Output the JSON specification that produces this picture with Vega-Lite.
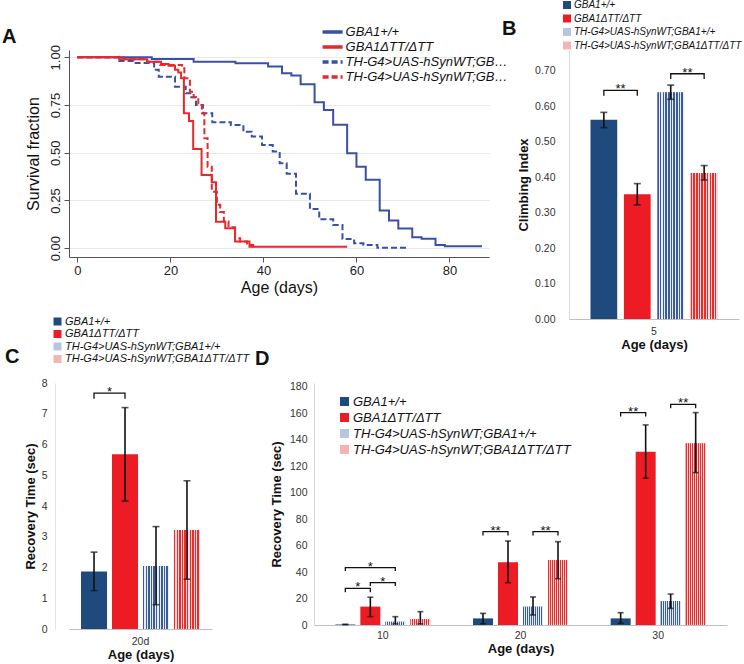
{
"$schema": "https://vega.github.io/schema/vega-lite/v6.json",
"background": "white",
"padding": {"left": 2, "top": 0, "right": 0, "bottom": 0},
"bounds": "flush",
"spacing": 333,
"resolve": {"scale": {"color": "independent", "strokeDash": "independent", "xOffset": "independent"}, "legend": {"color": "independent", "strokeDash": "independent"}},
"datasets": {
"surv": [
{"s":"GBA1+/+","day":0,"v":1.0},{"s":"GBA1+/+","day":16,"v":0.991},{"s":"GBA1+/+","day":25,"v":0.977},{"s":"GBA1+/+","day":34,"v":0.969},{"s":"GBA1+/+","day":41,"v":0.951},{"s":"GBA1+/+","day":44,"v":0.916},{"s":"GBA1+/+","day":46,"v":0.904},{"s":"GBA1+/+","day":48,"v":0.859},{"s":"GBA1+/+","day":51,"v":0.764},{"s":"GBA1+/+","day":53,"v":0.724},{"s":"GBA1+/+","day":55,"v":0.646},{"s":"GBA1+/+","day":58,"v":0.497},{"s":"GBA1+/+","day":60,"v":0.427},{"s":"GBA1+/+","day":62,"v":0.358},{"s":"GBA1+/+","day":65,"v":0.197},{"s":"GBA1+/+","day":67,"v":0.145},{"s":"GBA1+/+","day":69,"v":0.103},{"s":"GBA1+/+","day":72,"v":0.058},{"s":"GBA1+/+","day":74,"v":0.05},{"s":"GBA1+/+","day":77,"v":0.017},{"s":"GBA1+/+","day":79,"v":0.01},{"s":"GBA1+/+","day":87,"v":0.01},
{"s":"TH-G4>UAS-hSynWT;GBA1+/+","day":0,"v":1.0},{"s":"TH-G4>UAS-hSynWT;GBA1+/+","day":9,"v":0.98},{"s":"TH-G4>UAS-hSynWT;GBA1+/+","day":12,"v":0.97},{"s":"TH-G4>UAS-hSynWT;GBA1+/+","day":16.5,"v":0.934},{"s":"TH-G4>UAS-hSynWT;GBA1+/+","day":17.5,"v":0.898},{"s":"TH-G4>UAS-hSynWT;GBA1+/+","day":21,"v":0.846},{"s":"TH-G4>UAS-hSynWT;GBA1+/+","day":23.3,"v":0.811},{"s":"TH-G4>UAS-hSynWT;GBA1+/+","day":24.5,"v":0.79},{"s":"TH-G4>UAS-hSynWT;GBA1+/+","day":25.5,"v":0.75},{"s":"TH-G4>UAS-hSynWT;GBA1+/+","day":27,"v":0.707},{"s":"TH-G4>UAS-hSynWT;GBA1+/+","day":29,"v":0.66},{"s":"TH-G4>UAS-hSynWT;GBA1+/+","day":33,"v":0.645},{"s":"TH-G4>UAS-hSynWT;GBA1+/+","day":35.7,"v":0.61},{"s":"TH-G4>UAS-hSynWT;GBA1+/+","day":37.5,"v":0.585},{"s":"TH-G4>UAS-hSynWT;GBA1+/+","day":39.7,"v":0.541},{"s":"TH-G4>UAS-hSynWT;GBA1+/+","day":42,"v":0.506},{"s":"TH-G4>UAS-hSynWT;GBA1+/+","day":43.5,"v":0.445},{"s":"TH-G4>UAS-hSynWT;GBA1+/+","day":45,"v":0.39},{"s":"TH-G4>UAS-hSynWT;GBA1+/+","day":47,"v":0.285},{"s":"TH-G4>UAS-hSynWT;GBA1+/+","day":50,"v":0.205},{"s":"TH-G4>UAS-hSynWT;GBA1+/+","day":52,"v":0.152},{"s":"TH-G4>UAS-hSynWT;GBA1+/+","day":55,"v":0.122},{"s":"TH-G4>UAS-hSynWT;GBA1+/+","day":57,"v":0.048},{"s":"TH-G4>UAS-hSynWT;GBA1+/+","day":59.5,"v":0.026},{"s":"TH-G4>UAS-hSynWT;GBA1+/+","day":61.5,"v":0.017},{"s":"TH-G4>UAS-hSynWT;GBA1+/+","day":64.5,"v":0.003},{"s":"TH-G4>UAS-hSynWT;GBA1+/+","day":71.2,"v":0.003},
{"s":"GBA1ΔTT/ΔTT","day":0,"v":1.0},{"s":"GBA1ΔTT/ΔTT","day":9,"v":0.99},{"s":"GBA1ΔTT/ΔTT","day":15,"v":0.977},{"s":"GBA1ΔTT/ΔTT","day":18,"v":0.965},{"s":"GBA1ΔTT/ΔTT","day":19.6,"v":0.956},{"s":"GBA1ΔTT/ΔTT","day":21,"v":0.934},{"s":"GBA1ΔTT/ΔTT","day":21.7,"v":0.92},{"s":"GBA1ΔTT/ΔTT","day":22.3,"v":0.89},{"s":"GBA1ΔTT/ΔTT","day":22.9,"v":0.707},{"s":"GBA1ΔTT/ΔTT","day":24,"v":0.666},{"s":"GBA1ΔTT/ΔTT","day":24.9,"v":0.52},{"s":"GBA1ΔTT/ΔTT","day":26.7,"v":0.384},{"s":"GBA1ΔTT/ΔTT","day":28.9,"v":0.346},{"s":"GBA1ΔTT/ΔTT","day":29.8,"v":0.139},{"s":"GBA1ΔTT/ΔTT","day":31.8,"v":0.105},{"s":"GBA1ΔTT/ΔTT","day":33.9,"v":0.035},{"s":"GBA1ΔTT/ΔTT","day":37,"v":0.008},{"s":"GBA1ΔTT/ΔTT","day":58,"v":0.008},
{"s":"TH-G4>UAS-hSynWT;GBA1ΔTT/ΔTT","day":0,"v":1.0},{"s":"TH-G4>UAS-hSynWT;GBA1ΔTT/ΔTT","day":10,"v":0.99},{"s":"TH-G4>UAS-hSynWT;GBA1ΔTT/ΔTT","day":15,"v":0.977},{"s":"TH-G4>UAS-hSynWT;GBA1ΔTT/ΔTT","day":17.8,"v":0.96},{"s":"TH-G4>UAS-hSynWT;GBA1ΔTT/ΔTT","day":22.5,"v":0.942},{"s":"TH-G4>UAS-hSynWT;GBA1ΔTT/ΔTT","day":23,"v":0.89},{"s":"TH-G4>UAS-hSynWT;GBA1ΔTT/ΔTT","day":24.2,"v":0.82},{"s":"TH-G4>UAS-hSynWT;GBA1ΔTT/ΔTT","day":25,"v":0.79},{"s":"TH-G4>UAS-hSynWT;GBA1ΔTT/ΔTT","day":26,"v":0.75},{"s":"TH-G4>UAS-hSynWT;GBA1ΔTT/ΔTT","day":26.8,"v":0.707},{"s":"TH-G4>UAS-hSynWT;GBA1ΔTT/ΔTT","day":27.3,"v":0.576},{"s":"TH-G4>UAS-hSynWT;GBA1ΔTT/ΔTT","day":28,"v":0.427},{"s":"TH-G4>UAS-hSynWT;GBA1ΔTT/ΔTT","day":28.9,"v":0.296},{"s":"TH-G4>UAS-hSynWT;GBA1ΔTT/ΔTT","day":30,"v":0.227},{"s":"TH-G4>UAS-hSynWT;GBA1ΔTT/ΔTT","day":30.7,"v":0.19},{"s":"TH-G4>UAS-hSynWT;GBA1ΔTT/ΔTT","day":31.5,"v":0.14},{"s":"TH-G4>UAS-hSynWT;GBA1ΔTT/ΔTT","day":32.5,"v":0.11},{"s":"TH-G4>UAS-hSynWT;GBA1ΔTT/ΔTT","day":33.9,"v":0.052},{"s":"TH-G4>UAS-hSynWT;GBA1ΔTT/ΔTT","day":35,"v":0.035},{"s":"TH-G4>UAS-hSynWT;GBA1ΔTT/ΔTT","day":36.5,"v":0.017},{"s":"TH-G4>UAS-hSynWT;GBA1ΔTT/ΔTT","day":37.8,"v":0.003}
],
"climb": [
{"age":"5","g":"GBA1+/+","v":0.562,"lo":0.540,"hi":0.583},
{"age":"5","g":"GBA1ΔTT/ΔTT","v":0.352,"lo":0.322,"hi":0.382},
{"age":"5","g":"TH-G4>UAS-hSynWT;GBA1+/+","v":0.640,"lo":0.620,"hi":0.660},
{"age":"5","g":"TH-G4>UAS-hSynWT;GBA1ΔTT/ΔTT","v":0.412,"lo":0.392,"hi":0.433}
],
"climbBr": [
{"id":"b1","age":"5","g":"GBA1+/+","v":0.630,"o":1},{"id":"b1","age":"5","g":"GBA1+/+","v":0.645,"o":2},{"id":"b1","age":"5","g":"GBA1ΔTT/ΔTT","v":0.645,"o":3},{"id":"b1","age":"5","g":"GBA1ΔTT/ΔTT","v":0.630,"o":4},
{"id":"b2","age":"5","g":"TH-G4>UAS-hSynWT;GBA1+/+","v":0.677,"o":1},{"id":"b2","age":"5","g":"TH-G4>UAS-hSynWT;GBA1+/+","v":0.692,"o":2},{"id":"b2","age":"5","g":"TH-G4>UAS-hSynWT;GBA1ΔTT/ΔTT","v":0.692,"o":3},{"id":"b2","age":"5","g":"TH-G4>UAS-hSynWT;GBA1ΔTT/ΔTT","v":0.677,"o":4}
],
"climbTx": [
{"age":"5","g":"GBA1+/+","v":0.645,"t":"**"},
{"age":"5","g":"TH-G4>UAS-hSynWT;GBA1+/+","v":0.692,"t":"**"}
],
"rec20": [
{"age":"20d","g":"GBA1+/+","v":1.87,"lo":1.25,"hi":2.50},
{"age":"20d","g":"GBA1ΔTT/ΔTT","v":5.68,"lo":4.16,"hi":7.20},
{"age":"20d","g":"TH-G4>UAS-hSynWT;GBA1+/+","v":2.05,"lo":0.79,"hi":3.33},
{"age":"20d","g":"TH-G4>UAS-hSynWT;GBA1ΔTT/ΔTT","v":3.22,"lo":1.62,"hi":4.82}
],
"rec20Br": [
{"id":"c1","age":"20d","g":"GBA1+/+","v":7.49,"o":1},{"id":"c1","age":"20d","g":"GBA1+/+","v":7.67,"o":2},{"id":"c1","age":"20d","g":"GBA1ΔTT/ΔTT","v":7.67,"o":3},{"id":"c1","age":"20d","g":"GBA1ΔTT/ΔTT","v":7.49,"o":4}
],
"rec20Tx": [
{"age":"20d","g":"GBA1+/+","v":7.67,"t":"*"}
],
"rec": [
{"age":"10","g":"GBA1+/+","v":0.4,"lo":0.4,"hi":0.4},
{"age":"10","g":"GBA1ΔTT/ΔTT","v":13.9,"lo":6.3,"hi":21.0},
{"age":"10","g":"TH-G4>UAS-hSynWT;GBA1+/+","v":2.5,"lo":0.8,"hi":6.3},
{"age":"10","g":"TH-G4>UAS-hSynWT;GBA1ΔTT/ΔTT","v":4.5,"lo":0.8,"hi":10.1},
{"age":"20","g":"GBA1+/+","v":5.0,"lo":1.0,"hi":8.8},
{"age":"20","g":"GBA1ΔTT/ΔTT","v":47.4,"lo":32.0,"hi":63.5},
{"age":"20","g":"TH-G4>UAS-hSynWT;GBA1+/+","v":13.9,"lo":7.6,"hi":21.2},
{"age":"20","g":"TH-G4>UAS-hSynWT;GBA1ΔTT/ΔTT","v":49.2,"lo":35.0,"hi":63.0},
{"age":"30","g":"GBA1+/+","v":5.0,"lo":1.3,"hi":9.3},
{"age":"30","g":"GBA1ΔTT/ΔTT","v":131.1,"lo":111.0,"hi":151.3},
{"age":"30","g":"TH-G4>UAS-hSynWT;GBA1+/+","v":18.1,"lo":12.6,"hi":23.4},
{"age":"30","g":"TH-G4>UAS-hSynWT;GBA1ΔTT/ΔTT","v":137.4,"lo":115.2,"hi":160.6}
],
"recBr": [
{"id":"d1","age":"10","g":"GBA1+/+","v":24.7,"o":1},{"id":"d1","age":"10","g":"GBA1+/+","v":27.7,"o":2},{"id":"d1","age":"10","g":"GBA1ΔTT/ΔTT","v":27.7,"o":3},{"id":"d1","age":"10","g":"GBA1ΔTT/ΔTT","v":24.7,"o":4},
{"id":"d2","age":"10","g":"GBA1ΔTT/ΔTT","v":29.5,"o":1},{"id":"d2","age":"10","g":"GBA1ΔTT/ΔTT","v":32.0,"o":2},{"id":"d2","age":"10","g":"TH-G4>UAS-hSynWT;GBA1+/+","v":32.0,"o":3},{"id":"d2","age":"10","g":"TH-G4>UAS-hSynWT;GBA1+/+","v":29.5,"o":4},
{"id":"d3","age":"10","g":"GBA1+/+","v":40.8,"o":1},{"id":"d3","age":"10","g":"GBA1+/+","v":43.4,"o":2},{"id":"d3","age":"10","g":"TH-G4>UAS-hSynWT;GBA1+/+","v":43.4,"o":3},{"id":"d3","age":"10","g":"TH-G4>UAS-hSynWT;GBA1+/+","v":40.8,"o":4},
{"id":"d4","age":"20","g":"GBA1+/+","v":67.6,"o":1},{"id":"d4","age":"20","g":"GBA1+/+","v":70.6,"o":2},{"id":"d4","age":"20","g":"GBA1ΔTT/ΔTT","v":70.6,"o":3},{"id":"d4","age":"20","g":"GBA1ΔTT/ΔTT","v":67.6,"o":4},
{"id":"d5","age":"20","g":"TH-G4>UAS-hSynWT;GBA1+/+","v":67.6,"o":1},{"id":"d5","age":"20","g":"TH-G4>UAS-hSynWT;GBA1+/+","v":70.6,"o":2},{"id":"d5","age":"20","g":"TH-G4>UAS-hSynWT;GBA1ΔTT/ΔTT","v":70.6,"o":3},{"id":"d5","age":"20","g":"TH-G4>UAS-hSynWT;GBA1ΔTT/ΔTT","v":67.6,"o":4},
{"id":"d6","age":"30","g":"GBA1+/+","v":157.6,"o":1},{"id":"d6","age":"30","g":"GBA1+/+","v":160.6,"o":2},{"id":"d6","age":"30","g":"GBA1ΔTT/ΔTT","v":160.6,"o":3},{"id":"d6","age":"30","g":"GBA1ΔTT/ΔTT","v":157.6,"o":4},
{"id":"d7","age":"30","g":"TH-G4>UAS-hSynWT;GBA1+/+","v":163.9,"o":1},{"id":"d7","age":"30","g":"TH-G4>UAS-hSynWT;GBA1+/+","v":166.9,"o":2},{"id":"d7","age":"30","g":"TH-G4>UAS-hSynWT;GBA1ΔTT/ΔTT","v":166.9,"o":3},{"id":"d7","age":"30","g":"TH-G4>UAS-hSynWT;GBA1ΔTT/ΔTT","v":163.9,"o":4}
],
"recTx": [
{"age":"10","g":"GBA1+/+","v":27.7,"t":"*","mid":false},
{"age":"10","g":"GBA1ΔTT/ΔTT","v":32.0,"t":"*","mid":false},
{"age":"10","g":"GBA1ΔTT/ΔTT","v":43.4,"t":"*","mid":true},
{"age":"20","g":"GBA1+/+","v":70.6,"t":"**","mid":false},
{"age":"20","g":"TH-G4>UAS-hSynWT;GBA1+/+","v":70.6,"t":"**","mid":false},
{"age":"30","g":"GBA1+/+","v":160.6,"t":"**","mid":false},
{"age":"30","g":"TH-G4>UAS-hSynWT;GBA1+/+","v":166.9,"t":"**","mid":false}
]
},
"vconcat": [
{"hconcat": [
{
"width": 420, "height": 207,
"title": {"text": "A", "dx": -67, "offset": 0, "dy": 23},
"data": {"name": "surv"},
"mark": {"type": "line", "interpolate": "step-after", "strokeWidth": 2},
"encoding": {
"x": {"field": "day", "type": "quantitative", "scale": {"domain": [-1.8, 88.5], "nice": false, "zero": false},
 "axis": {"values": [0,20,40,60,80], "title": "Age (days)", "grid": false, "labelFontSize": 13, "titleFontSize": 16, "titleFontWeight": "normal", "tickSize": 5, "tickColor": "#555", "domainColor": "#555", "labelPadding": 2, "titlePadding": 2, "labelColor": "#222"}},
"y": {"field": "v", "type": "quantitative", "scale": {"domain": [-0.046, 1.038], "nice": false, "zero": false},
 "axis": {"values": [0,0.25,0.5,0.75,1], "format": ".2f", "title": "Survival fraction", "labelAngle": 270, "labelFontSize": 13, "titleFontSize": 16, "titleFontWeight": "normal", "tickSize": 5, "tickColor": "#555", "domainColor": "#555", "grid": true, "gridColor": "#e3ebf2", "labelPadding": 2, "titlePadding": 8, "labelColor": "#222"}},
"color": {"field": "s", "type": "nominal",
 "scale": {"domain": ["GBA1+/+","GBA1ΔTT/ΔTT","TH-G4>UAS-hSynWT;GBA1+/+","TH-G4>UAS-hSynWT;GBA1ΔTT/ΔTT"], "range": ["#3a4fa6","#e8282b","#3a4fa6","#e8282b"]},
 "legend": {"orient": "none", "legendX": 255.6, "legendY": -26, "title": null, "symbolType": "M-1.67,0H1.67", "symbolSize": 144, "symbolStrokeWidth": 3.5, "labelFontSize": 13, "rowPadding": 0, "labelLimit": 162, "labelOffset": 5}},
"strokeDash": {"field": "s", "type": "nominal",
 "scale": {"domain": ["GBA1+/+","GBA1ΔTT/ΔTT","TH-G4>UAS-hSynWT;GBA1+/+","TH-G4>UAS-hSynWT;GBA1ΔTT/ΔTT"], "range": [[1,0],[1,0],[6,3],[6,3]]},
 "legend": {"orient": "none", "legendX": 255.6, "legendY": -26, "title": null, "symbolType": "M-1.67,0H1.67", "symbolSize": 144, "symbolStrokeWidth": 3.5, "labelFontSize": 13, "rowPadding": 0, "labelLimit": 162, "labelOffset": 5}}
}
},
{
"width": 170, "height": 269,
"title": {"text": "B", "dx": -67, "offset": 0, "dy": 39},
"data": {"name": "climb"},
"resolve": {"axis": {"y": "independent"}},
"encoding": {
"x": {"field": "age", "type": "nominal", "scale": {"paddingInner": 0, "paddingOuter": 0.169},
 "axis": {"title": "Age (days)", "labelAngle": 0, "labelFontSize": 10.5, "ticks": false, "domainColor": "#bfbfbf", "labelPadding": 7, "titleFontSize": 13, "titleFontWeight": "bold", "titlePadding": 2}},
"xOffset": {"field": "g", "type": "nominal", "scale": {"domain": ["GBA1+/+","GBA1ΔTT/ΔTT","TH-G4>UAS-hSynWT;GBA1+/+","TH-G4>UAS-hSynWT;GBA1ΔTT/ΔTT"], "paddingInner": 0.2, "paddingOuter": 0}}
},
"layer": [
{"mark": {"type": "bar"},
 "encoding": {
 "y": {"field": "v", "type": "quantitative", "scale": {"domain": [0, 0.759], "nice": false},
  "axis": {"values": [0,0.1,0.2,0.3,0.4,0.5,0.6,0.7], "format": ".2f", "title": "Climbing Index", "grid": false, "ticks": false, "domainColor": "#d9d9d9", "labelFontSize": 10.5, "labelPadding": 14, "titleFontSize": 13, "titleFontWeight": "bold", "titlePadding": 4, "labelOverlap": false}},
 "color": {"field": "g", "type": "nominal",
  "scale": {"domain": ["GBA1+/+","GBA1ΔTT/ΔTT","TH-G4>UAS-hSynWT;GBA1+/+","TH-G4>UAS-hSynWT;GBA1ΔTT/ΔTT"], "range": ["#1f4a7e","#ed1c24","#b8c6dc","#f6b3b3"]},
  "legend": {"orient": "none", "legendX": -7, "legendY": -50, "title": null, "symbolType": "square", "symbolSize": 64, "labelFontSize": 10, "rowPadding": 3.5, "labelOffset": 2, "labelLimit": 250}}
 }},
{"transform": [{"filter": "indexof(datum.g,'TH')===0"}],
 "mark": {"type": "bar"},
 "encoding": {
 "y": {"field": "v", "type": "quantitative", "axis": null},
 "fill": {"condition": {"test": "datum.g==='TH-G4>UAS-hSynWT;GBA1+/+'", "value": {"gradient": "linear", "x1": 0, "y1": 0, "x2": 1, "y2": 0, "stops": [{"offset":0,"color":"#3a5d96"},{"offset":0.055,"color":"#3a5d96"},{"offset":0.055,"color":"#e6ebf4"},{"offset":0.1,"color":"#e6ebf4"},{"offset":0.1,"color":"#3a5d96"},{"offset":0.155,"color":"#3a5d96"},{"offset":0.155,"color":"#e6ebf4"},{"offset":0.2,"color":"#e6ebf4"},{"offset":0.2,"color":"#3a5d96"},{"offset":0.255,"color":"#3a5d96"},{"offset":0.255,"color":"#e6ebf4"},{"offset":0.3,"color":"#e6ebf4"},{"offset":0.3,"color":"#3a5d96"},{"offset":0.355,"color":"#3a5d96"},{"offset":0.355,"color":"#e6ebf4"},{"offset":0.4,"color":"#e6ebf4"},{"offset":0.4,"color":"#3a5d96"},{"offset":0.455,"color":"#3a5d96"},{"offset":0.455,"color":"#e6ebf4"},{"offset":0.5,"color":"#e6ebf4"},{"offset":0.5,"color":"#3a5d96"},{"offset":0.555,"color":"#3a5d96"},{"offset":0.555,"color":"#e6ebf4"},{"offset":0.6,"color":"#e6ebf4"},{"offset":0.6,"color":"#3a5d96"},{"offset":0.655,"color":"#3a5d96"},{"offset":0.655,"color":"#e6ebf4"},{"offset":0.7,"color":"#e6ebf4"},{"offset":0.7,"color":"#3a5d96"},{"offset":0.755,"color":"#3a5d96"},{"offset":0.755,"color":"#e6ebf4"},{"offset":0.8,"color":"#e6ebf4"},{"offset":0.8,"color":"#3a5d96"},{"offset":0.855,"color":"#3a5d96"},{"offset":0.855,"color":"#e6ebf4"},{"offset":0.9,"color":"#e6ebf4"},{"offset":0.9,"color":"#3a5d96"},{"offset":0.955,"color":"#3a5d96"},{"offset":0.955,"color":"#e6ebf4"},{"offset":1,"color":"#e6ebf4"}]}},
  "value": {"gradient": "linear", "x1": 0, "y1": 0, "x2": 1, "y2": 0, "stops": [{"offset":0,"color":"#ee2a2a"},{"offset":0.055,"color":"#ee2a2a"},{"offset":0.055,"color":"#fcdada"},{"offset":0.1,"color":"#fcdada"},{"offset":0.1,"color":"#ee2a2a"},{"offset":0.155,"color":"#ee2a2a"},{"offset":0.155,"color":"#fcdada"},{"offset":0.2,"color":"#fcdada"},{"offset":0.2,"color":"#ee2a2a"},{"offset":0.255,"color":"#ee2a2a"},{"offset":0.255,"color":"#fcdada"},{"offset":0.3,"color":"#fcdada"},{"offset":0.3,"color":"#ee2a2a"},{"offset":0.355,"color":"#ee2a2a"},{"offset":0.355,"color":"#fcdada"},{"offset":0.4,"color":"#fcdada"},{"offset":0.4,"color":"#ee2a2a"},{"offset":0.455,"color":"#ee2a2a"},{"offset":0.455,"color":"#fcdada"},{"offset":0.5,"color":"#fcdada"},{"offset":0.5,"color":"#ee2a2a"},{"offset":0.555,"color":"#ee2a2a"},{"offset":0.555,"color":"#fcdada"},{"offset":0.6,"color":"#fcdada"},{"offset":0.6,"color":"#ee2a2a"},{"offset":0.655,"color":"#ee2a2a"},{"offset":0.655,"color":"#fcdada"},{"offset":0.7,"color":"#fcdada"},{"offset":0.7,"color":"#ee2a2a"},{"offset":0.755,"color":"#ee2a2a"},{"offset":0.755,"color":"#fcdada"},{"offset":0.8,"color":"#fcdada"},{"offset":0.8,"color":"#ee2a2a"},{"offset":0.855,"color":"#ee2a2a"},{"offset":0.855,"color":"#fcdada"},{"offset":0.9,"color":"#fcdada"},{"offset":0.9,"color":"#ee2a2a"},{"offset":0.955,"color":"#ee2a2a"},{"offset":0.955,"color":"#fcdada"},{"offset":1,"color":"#fcdada"}]}}
 }},
{"mark": {"type": "rule", "color": "#111", "strokeWidth": 1.6},
 "encoding": {"y": {"field": "lo", "type": "quantitative", "axis": null}, "y2": {"field": "hi"}}},
{"mark": {"type": "tick", "color": "#111", "thickness": 1.6, "size": 7},
 "encoding": {"y": {"field": "lo", "type": "quantitative", "axis": null}}},
{"mark": {"type": "tick", "color": "#111", "thickness": 1.6, "size": 7},
 "encoding": {"y": {"field": "hi", "type": "quantitative", "axis": null}}},
{"data": {"name": "climbBr"},
 "mark": {"type": "line", "color": "#111", "strokeWidth": 1.3},
 "encoding": {"y": {"field": "v", "type": "quantitative", "axis": null}, "detail": {"field": "id"}, "order": {"field": "o"}}},
{"data": {"name": "climbTx"},
 "mark": {"type": "text", "dx": 16.7, "dy": 3, "baseline": "alphabetic", "fontSize": 13, "color": "#111"},
 "encoding": {"y": {"field": "v", "type": "quantitative", "axis": null}, "text": {"field": "t"}}}
]
}
], "bounds": "flush", "spacing": 80,
"resolve": {"scale": {"color": "independent", "strokeDash": "independent", "xOffset": "independent"}, "legend": {"color": "independent", "strokeDash": "independent"}}},
{"hconcat": [
{
"width": 143, "height": 246,
"title": {"text": "C", "dx": -64, "offset": 0, "dy": 51},
"data": {"name": "rec20"},
"resolve": {"axis": {"y": "independent"}},
"encoding": {
"x": {"field": "age", "type": "nominal", "scale": {"paddingInner": 0, "paddingOuter": 0.101},
 "axis": {"title": "Age (days)", "labelAngle": 0, "labelFontSize": 10.5, "ticks": false, "domainColor": "#bfbfbf", "labelPadding": 7, "titleFontSize": 13, "titleFontWeight": "bold", "titlePadding": 2}},
"xOffset": {"field": "g", "type": "nominal", "scale": {"domain": ["GBA1+/+","GBA1ΔTT/ΔTT","TH-G4>UAS-hSynWT;GBA1+/+","TH-G4>UAS-hSynWT;GBA1ΔTT/ΔTT"], "paddingInner": 0.16, "paddingOuter": 0}}
},
"layer": [
{"mark": {"type": "bar"},
 "encoding": {
 "y": {"field": "v", "type": "quantitative", "scale": {"domain": [0, 8], "nice": false},
  "axis": {"values": [0,1,2,3,4,5,6,7,8], "title": "Recovery Time (sec)", "grid": false, "ticks": false, "offset": 14, "domainColor": "#e3e3e3", "labelFontSize": 10.5, "labelPadding": 8, "titleFontSize": 13, "titleFontWeight": "bold", "titlePadding": 4, "labelOverlap": false}},
 "color": {"field": "g", "type": "nominal",
  "scale": {"domain": ["GBA1+/+","GBA1ΔTT/ΔTT","TH-G4>UAS-hSynWT;GBA1+/+","TH-G4>UAS-hSynWT;GBA1ΔTT/ΔTT"], "range": ["#1f4a7e","#ed1c24","#b8c6dc","#f6b3b3"]},
  "legend": {"orient": "none", "legendX": -17, "legendY": -67, "title": null, "symbolType": "square", "symbolSize": 64, "labelFontSize": 11, "rowPadding": 0.5, "labelOffset": 2, "labelLimit": 250}}
 }},
{"transform": [{"filter": "indexof(datum.g,'TH')===0"}],
 "mark": {"type": "bar"},
 "encoding": {
 "y": {"field": "v", "type": "quantitative", "axis": null},
 "fill": {"condition": {"test": "datum.g==='TH-G4>UAS-hSynWT;GBA1+/+'", "value": {"gradient": "linear", "x1": 0, "y1": 0, "x2": 1, "y2": 0, "stops": [{"offset":0,"color":"#3a5d96"},{"offset":0.055,"color":"#3a5d96"},{"offset":0.055,"color":"#e6ebf4"},{"offset":0.1,"color":"#e6ebf4"},{"offset":0.1,"color":"#3a5d96"},{"offset":0.155,"color":"#3a5d96"},{"offset":0.155,"color":"#e6ebf4"},{"offset":0.2,"color":"#e6ebf4"},{"offset":0.2,"color":"#3a5d96"},{"offset":0.255,"color":"#3a5d96"},{"offset":0.255,"color":"#e6ebf4"},{"offset":0.3,"color":"#e6ebf4"},{"offset":0.3,"color":"#3a5d96"},{"offset":0.355,"color":"#3a5d96"},{"offset":0.355,"color":"#e6ebf4"},{"offset":0.4,"color":"#e6ebf4"},{"offset":0.4,"color":"#3a5d96"},{"offset":0.455,"color":"#3a5d96"},{"offset":0.455,"color":"#e6ebf4"},{"offset":0.5,"color":"#e6ebf4"},{"offset":0.5,"color":"#3a5d96"},{"offset":0.555,"color":"#3a5d96"},{"offset":0.555,"color":"#e6ebf4"},{"offset":0.6,"color":"#e6ebf4"},{"offset":0.6,"color":"#3a5d96"},{"offset":0.655,"color":"#3a5d96"},{"offset":0.655,"color":"#e6ebf4"},{"offset":0.7,"color":"#e6ebf4"},{"offset":0.7,"color":"#3a5d96"},{"offset":0.755,"color":"#3a5d96"},{"offset":0.755,"color":"#e6ebf4"},{"offset":0.8,"color":"#e6ebf4"},{"offset":0.8,"color":"#3a5d96"},{"offset":0.855,"color":"#3a5d96"},{"offset":0.855,"color":"#e6ebf4"},{"offset":0.9,"color":"#e6ebf4"},{"offset":0.9,"color":"#3a5d96"},{"offset":0.955,"color":"#3a5d96"},{"offset":0.955,"color":"#e6ebf4"},{"offset":1,"color":"#e6ebf4"}]}},
  "value": {"gradient": "linear", "x1": 0, "y1": 0, "x2": 1, "y2": 0, "stops": [{"offset":0,"color":"#ee2a2a"},{"offset":0.055,"color":"#ee2a2a"},{"offset":0.055,"color":"#fcdada"},{"offset":0.1,"color":"#fcdada"},{"offset":0.1,"color":"#ee2a2a"},{"offset":0.155,"color":"#ee2a2a"},{"offset":0.155,"color":"#fcdada"},{"offset":0.2,"color":"#fcdada"},{"offset":0.2,"color":"#ee2a2a"},{"offset":0.255,"color":"#ee2a2a"},{"offset":0.255,"color":"#fcdada"},{"offset":0.3,"color":"#fcdada"},{"offset":0.3,"color":"#ee2a2a"},{"offset":0.355,"color":"#ee2a2a"},{"offset":0.355,"color":"#fcdada"},{"offset":0.4,"color":"#fcdada"},{"offset":0.4,"color":"#ee2a2a"},{"offset":0.455,"color":"#ee2a2a"},{"offset":0.455,"color":"#fcdada"},{"offset":0.5,"color":"#fcdada"},{"offset":0.5,"color":"#ee2a2a"},{"offset":0.555,"color":"#ee2a2a"},{"offset":0.555,"color":"#fcdada"},{"offset":0.6,"color":"#fcdada"},{"offset":0.6,"color":"#ee2a2a"},{"offset":0.655,"color":"#ee2a2a"},{"offset":0.655,"color":"#fcdada"},{"offset":0.7,"color":"#fcdada"},{"offset":0.7,"color":"#ee2a2a"},{"offset":0.755,"color":"#ee2a2a"},{"offset":0.755,"color":"#fcdada"},{"offset":0.8,"color":"#fcdada"},{"offset":0.8,"color":"#ee2a2a"},{"offset":0.855,"color":"#ee2a2a"},{"offset":0.855,"color":"#fcdada"},{"offset":0.9,"color":"#fcdada"},{"offset":0.9,"color":"#ee2a2a"},{"offset":0.955,"color":"#ee2a2a"},{"offset":0.955,"color":"#fcdada"},{"offset":1,"color":"#fcdada"}]}}
 }},
{"mark": {"type": "rule", "color": "#111", "strokeWidth": 1.6},
 "encoding": {"y": {"field": "lo", "type": "quantitative", "axis": null}, "y2": {"field": "hi"}}},
{"mark": {"type": "tick", "color": "#111", "thickness": 1.6, "size": 7},
 "encoding": {"y": {"field": "lo", "type": "quantitative", "axis": null}}},
{"mark": {"type": "tick", "color": "#111", "thickness": 1.6, "size": 7},
 "encoding": {"y": {"field": "hi", "type": "quantitative", "axis": null}}},
{"data": {"name": "rec20Br"},
 "mark": {"type": "line", "color": "#111", "strokeWidth": 1.3},
 "encoding": {"y": {"field": "v", "type": "quantitative", "axis": null}, "detail": {"field": "id"}, "order": {"field": "o"}}},
{"data": {"name": "rec20Tx"},
 "mark": {"type": "text", "dx": 15.5, "dy": 3, "baseline": "alphabetic", "fontSize": 13, "color": "#111"},
 "encoding": {"y": {"field": "v", "type": "quantitative", "axis": null}, "text": {"field": "t"}}}
]
},
{
"width": 413, "height": 242,
"title": {"text": "D", "dx": -59, "offset": 18, "dy": 5},
"data": {"name": "rec"},
"resolve": {"axis": {"y": "independent"}},
"encoding": {
"x": {"field": "age", "type": "nominal", "scale": {"paddingInner": 0, "paddingOuter": 0},
 "axis": {"title": "Age (days)", "labelAngle": 0, "labelFontSize": 10.5, "ticks": false, "domainColor": "#bfbfbf", "labelPadding": 5, "titleFontSize": 13, "titleFontWeight": "bold", "titlePadding": 2}},
"xOffset": {"field": "g", "type": "nominal", "scale": {"domain": ["GBA1+/+","GBA1ΔTT/ΔTT","TH-G4>UAS-hSynWT;GBA1+/+","TH-G4>UAS-hSynWT;GBA1ΔTT/ΔTT"], "paddingInner": 0.2, "paddingOuter": 0.853}}
},
"layer": [
{"mark": {"type": "bar"},
 "encoding": {
 "y": {"field": "v", "type": "quantitative", "scale": {"domain": [0, 183], "nice": false},
  "axis": {"values": [0,20,40,60,80,100,120,140,160,180], "title": "Recovery Time (sec)", "grid": false, "ticks": false, "domainColor": "#d9d9d9", "labelFontSize": 10.5, "labelPadding": 7, "titleFontSize": 13, "titleFontWeight": "bold", "titlePadding": 6, "labelOverlap": false}},
 "color": {"field": "g", "type": "nominal",
  "scale": {"domain": ["GBA1+/+","GBA1ΔTT/ΔTT","TH-G4>UAS-hSynWT;GBA1+/+","TH-G4>UAS-hSynWT;GBA1ΔTT/ΔTT"], "range": ["#1f4a7e","#ed1c24","#b8c6dc","#f6b3b3"]},
  "legend": {"orient": "none", "legendX": 24, "legendY": 12, "title": null, "symbolType": "square", "symbolSize": 81, "labelFontSize": 13, "rowPadding": 2, "labelOffset": 2, "labelLimit": 300}}
 }},
{"transform": [{"filter": "indexof(datum.g,'TH')===0"}],
 "mark": {"type": "bar"},
 "encoding": {
 "y": {"field": "v", "type": "quantitative", "axis": null},
 "fill": {"condition": {"test": "datum.g==='TH-G4>UAS-hSynWT;GBA1+/+'", "value": {"gradient": "linear", "x1": 0, "y1": 0, "x2": 1, "y2": 0, "stops": [{"offset":0,"color":"#3a5d96"},{"offset":0.055,"color":"#3a5d96"},{"offset":0.055,"color":"#e6ebf4"},{"offset":0.1,"color":"#e6ebf4"},{"offset":0.1,"color":"#3a5d96"},{"offset":0.155,"color":"#3a5d96"},{"offset":0.155,"color":"#e6ebf4"},{"offset":0.2,"color":"#e6ebf4"},{"offset":0.2,"color":"#3a5d96"},{"offset":0.255,"color":"#3a5d96"},{"offset":0.255,"color":"#e6ebf4"},{"offset":0.3,"color":"#e6ebf4"},{"offset":0.3,"color":"#3a5d96"},{"offset":0.355,"color":"#3a5d96"},{"offset":0.355,"color":"#e6ebf4"},{"offset":0.4,"color":"#e6ebf4"},{"offset":0.4,"color":"#3a5d96"},{"offset":0.455,"color":"#3a5d96"},{"offset":0.455,"color":"#e6ebf4"},{"offset":0.5,"color":"#e6ebf4"},{"offset":0.5,"color":"#3a5d96"},{"offset":0.555,"color":"#3a5d96"},{"offset":0.555,"color":"#e6ebf4"},{"offset":0.6,"color":"#e6ebf4"},{"offset":0.6,"color":"#3a5d96"},{"offset":0.655,"color":"#3a5d96"},{"offset":0.655,"color":"#e6ebf4"},{"offset":0.7,"color":"#e6ebf4"},{"offset":0.7,"color":"#3a5d96"},{"offset":0.755,"color":"#3a5d96"},{"offset":0.755,"color":"#e6ebf4"},{"offset":0.8,"color":"#e6ebf4"},{"offset":0.8,"color":"#3a5d96"},{"offset":0.855,"color":"#3a5d96"},{"offset":0.855,"color":"#e6ebf4"},{"offset":0.9,"color":"#e6ebf4"},{"offset":0.9,"color":"#3a5d96"},{"offset":0.955,"color":"#3a5d96"},{"offset":0.955,"color":"#e6ebf4"},{"offset":1,"color":"#e6ebf4"}]}},
  "value": {"gradient": "linear", "x1": 0, "y1": 0, "x2": 1, "y2": 0, "stops": [{"offset":0,"color":"#ee2a2a"},{"offset":0.055,"color":"#ee2a2a"},{"offset":0.055,"color":"#fcdada"},{"offset":0.1,"color":"#fcdada"},{"offset":0.1,"color":"#ee2a2a"},{"offset":0.155,"color":"#ee2a2a"},{"offset":0.155,"color":"#fcdada"},{"offset":0.2,"color":"#fcdada"},{"offset":0.2,"color":"#ee2a2a"},{"offset":0.255,"color":"#ee2a2a"},{"offset":0.255,"color":"#fcdada"},{"offset":0.3,"color":"#fcdada"},{"offset":0.3,"color":"#ee2a2a"},{"offset":0.355,"color":"#ee2a2a"},{"offset":0.355,"color":"#fcdada"},{"offset":0.4,"color":"#fcdada"},{"offset":0.4,"color":"#ee2a2a"},{"offset":0.455,"color":"#ee2a2a"},{"offset":0.455,"color":"#fcdada"},{"offset":0.5,"color":"#fcdada"},{"offset":0.5,"color":"#ee2a2a"},{"offset":0.555,"color":"#ee2a2a"},{"offset":0.555,"color":"#fcdada"},{"offset":0.6,"color":"#fcdada"},{"offset":0.6,"color":"#ee2a2a"},{"offset":0.655,"color":"#ee2a2a"},{"offset":0.655,"color":"#fcdada"},{"offset":0.7,"color":"#fcdada"},{"offset":0.7,"color":"#ee2a2a"},{"offset":0.755,"color":"#ee2a2a"},{"offset":0.755,"color":"#fcdada"},{"offset":0.8,"color":"#fcdada"},{"offset":0.8,"color":"#ee2a2a"},{"offset":0.855,"color":"#ee2a2a"},{"offset":0.855,"color":"#fcdada"},{"offset":0.9,"color":"#fcdada"},{"offset":0.9,"color":"#ee2a2a"},{"offset":0.955,"color":"#ee2a2a"},{"offset":0.955,"color":"#fcdada"},{"offset":1,"color":"#fcdada"}]}}
 }},
{"mark": {"type": "rule", "color": "#111", "strokeWidth": 1.6},
 "encoding": {"y": {"field": "lo", "type": "quantitative", "axis": null}, "y2": {"field": "hi"}}},
{"mark": {"type": "tick", "color": "#111", "thickness": 1.6, "size": 6},
 "encoding": {"y": {"field": "lo", "type": "quantitative", "axis": null}}},
{"mark": {"type": "tick", "color": "#111", "thickness": 1.6, "size": 6},
 "encoding": {"y": {"field": "hi", "type": "quantitative", "axis": null}}},
{"data": {"name": "recBr"},
 "mark": {"type": "line", "color": "#111", "strokeWidth": 1.3},
 "encoding": {"y": {"field": "v", "type": "quantitative", "axis": null}, "detail": {"field": "id"}, "order": {"field": "o"}}},
{"data": {"name": "recTx"},
 "transform": [{"filter": "!datum.mid"}],
 "mark": {"type": "text", "dx": 12.5, "dy": 3, "baseline": "alphabetic", "fontSize": 13, "color": "#111"},
 "encoding": {"y": {"field": "v", "type": "quantitative", "axis": null}, "text": {"field": "t"}}},
{"data": {"name": "recTx"},
 "transform": [{"filter": "datum.mid"}],
 "mark": {"type": "text", "dx": 0, "dy": 3, "baseline": "alphabetic", "fontSize": 13, "color": "#111"},
 "encoding": {"y": {"field": "v", "type": "quantitative", "axis": null}, "text": {"field": "t"}}}
]
}
], "bounds": "flush", "spacing": 102,
"resolve": {"scale": {"color": "independent", "strokeDash": "independent", "xOffset": "independent"}, "legend": {"color": "independent", "strokeDash": "independent"}}}
],
"config": {
"view": {"stroke": null},
"font": "Liberation Sans",
"axis": {"labelFont": "Liberation Sans", "titleFont": "Liberation Sans", "labelColor": "#333", "titleColor": "#111", "labelOverlap": false},
"legend": {"labelFont": "Liberation Sans", "labelFontStyle": "italic", "labelColor": "#111"},
"title": {"font": "Liberation Sans", "fontSize": 20, "fontWeight": "bold", "color": "#111", "anchor": "start", "frame": "group"}
}
}
